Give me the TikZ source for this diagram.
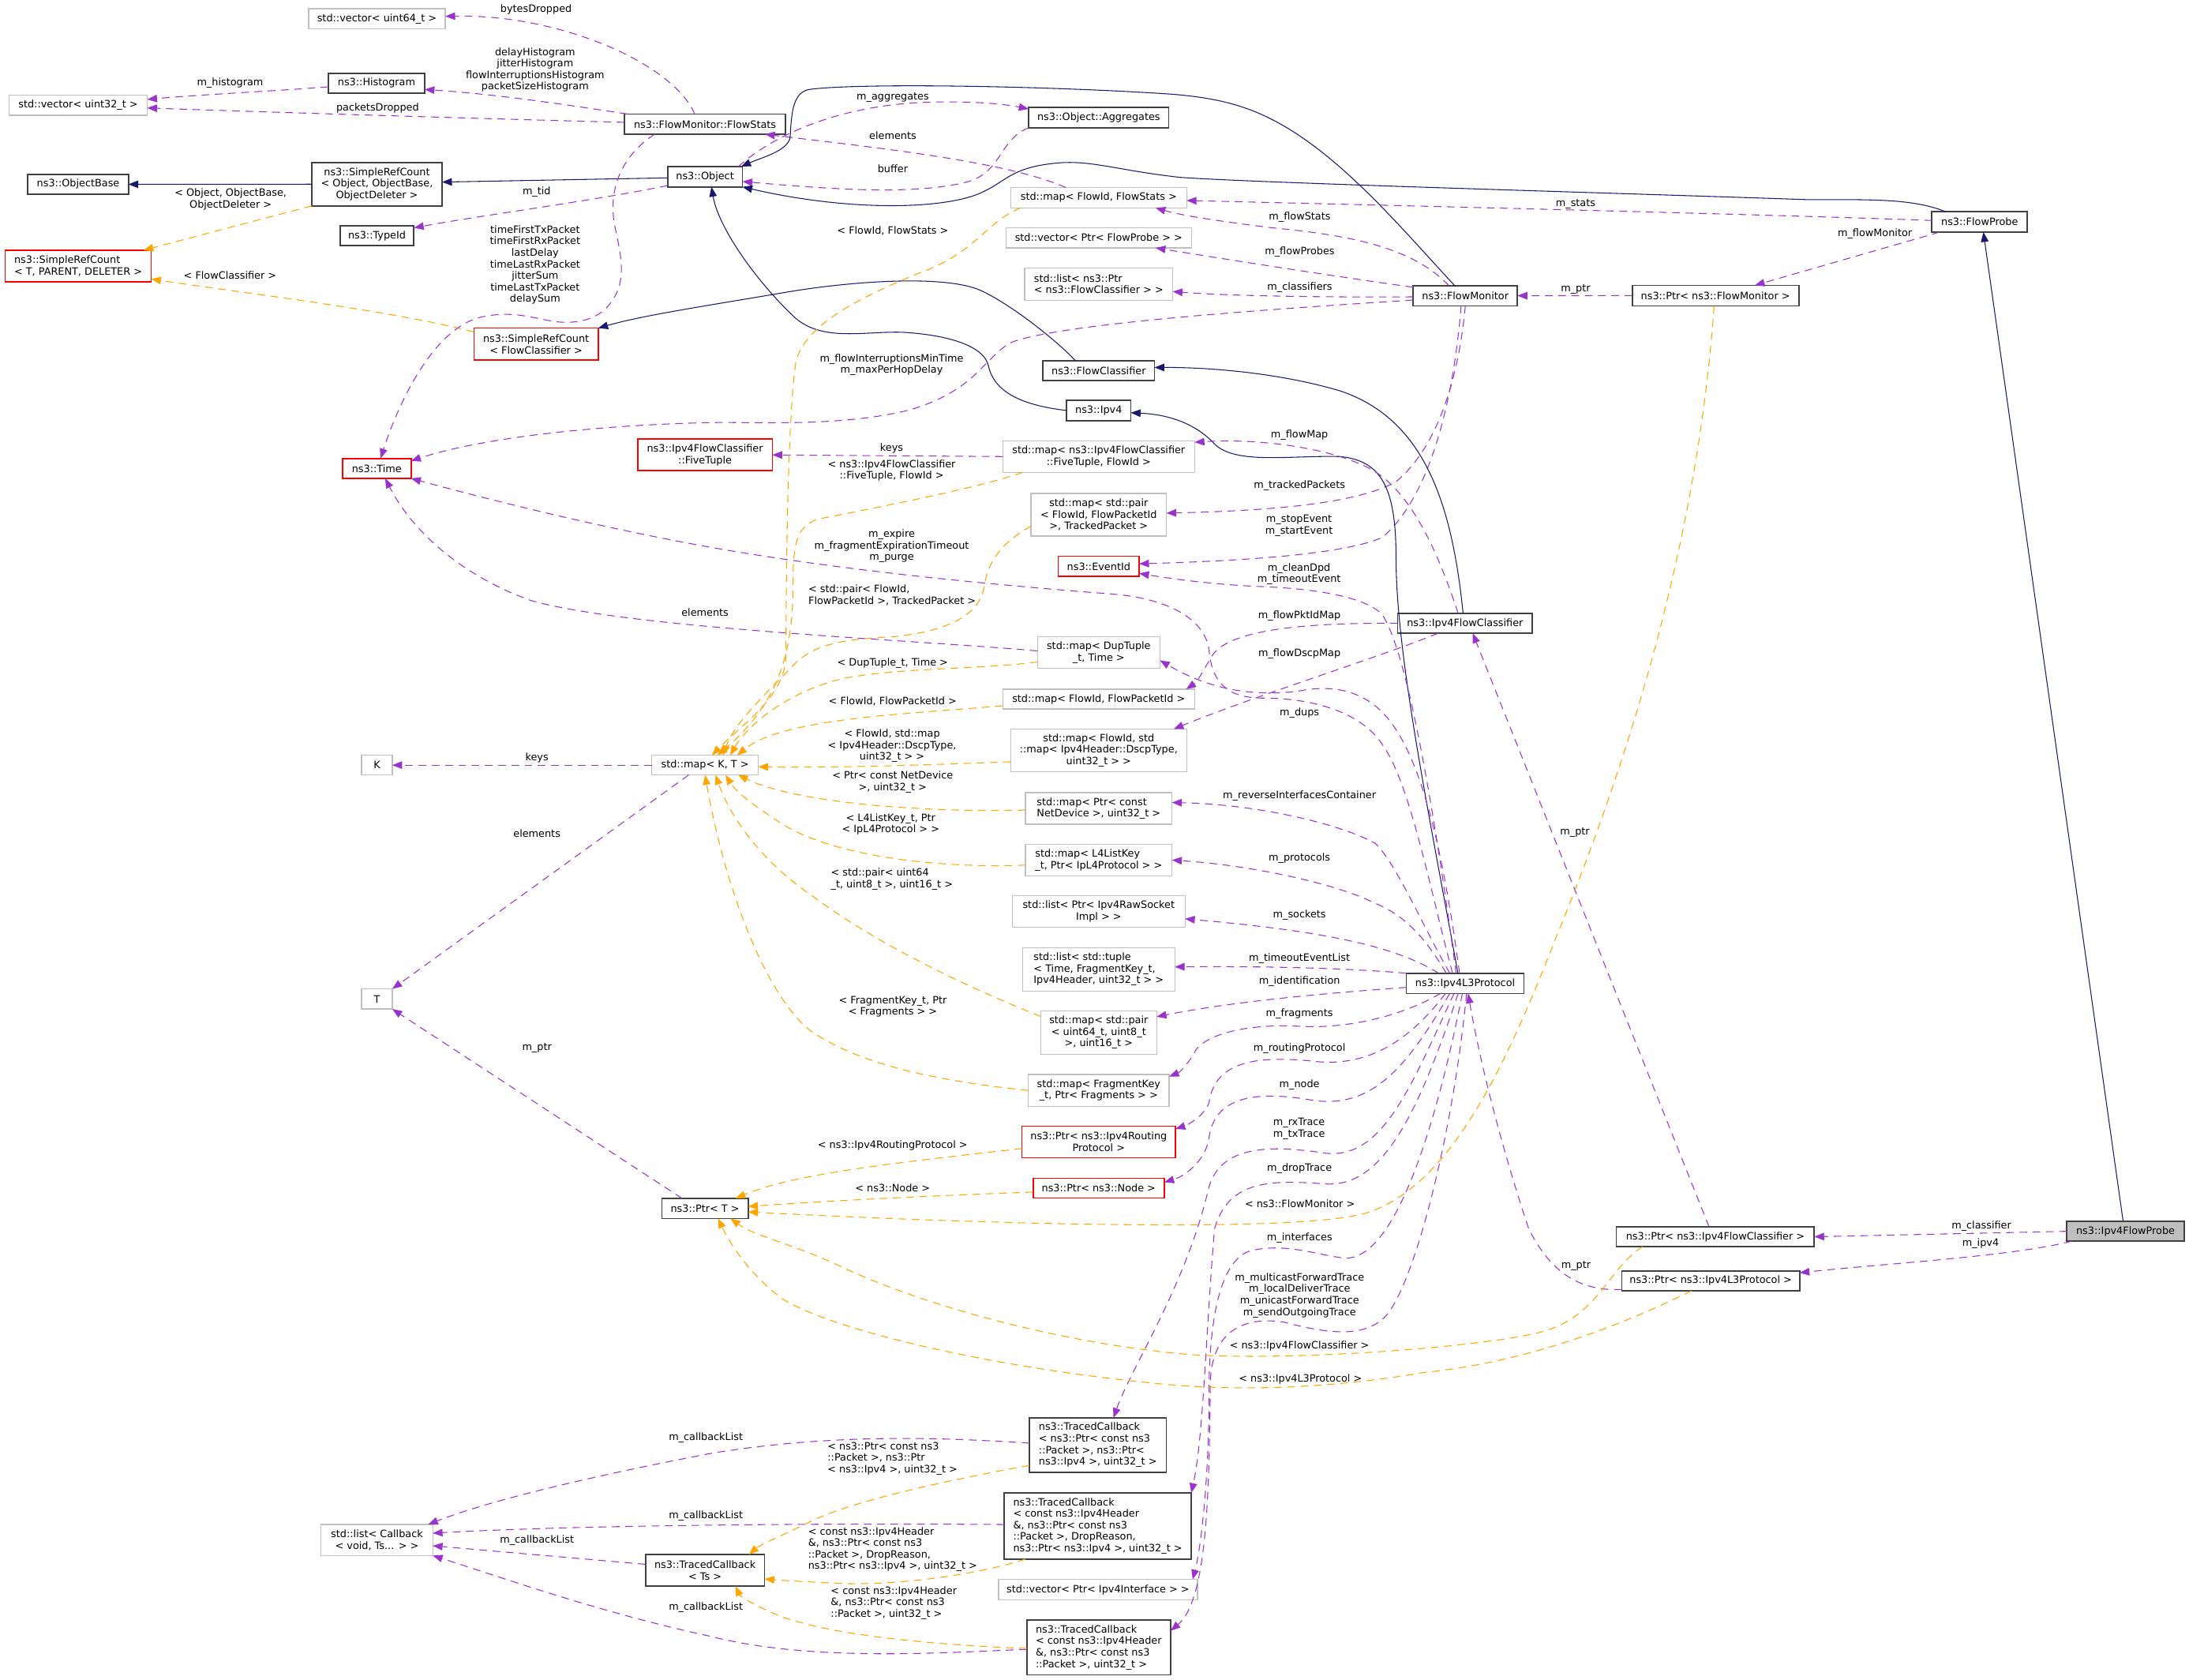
\documentclass[tikz,border=0pt]{standalone}
\usepackage{fontspec}
\setmainfont{DejaVu Sans}
\usetikzlibrary{arrows.meta}
\definecolor{purp}{HTML}{9A32CD}
\definecolor{orng}{HTML}{FFA500}
\definecolor{navyc}{HTML}{191970}
\definecolor{gbord}{HTML}{BFBFBF}
\definecolor{bbord}{HTML}{404040}
\definecolor{pfill}{HTML}{BFBFBF}
\newcommand{\dfont}{\fontsize{7.25}{8.25}\selectfont}
\tikzset{
  lbl/.style={font=\dfont, inner sep=0pt, align=center},
  bx/.style={rectangle, inner sep=1pt, outer sep=0pt, font=\dfont},
  blk/.style={bx, draw=bbord, line width=1pt, fill=white},
  gry/.style={bx, draw=gbord, line width=0.8pt, fill=white},
  rdb/.style={bx, draw=red, line width=1pt, fill=white},
  uses/.style={draw=purp, line width=0.6pt, dash pattern=on 5.5pt off 4pt, -{Triangle[length=7pt,width=5.4pt]}},
  tmpl/.style={draw=orng, line width=0.6pt, dash pattern=on 5.5pt off 4pt, -{Triangle[length=7pt,width=5.4pt]}},
  inh/.style={draw=navyc, line width=0.6pt, -{Triangle[length=7pt,width=5.4pt]}}
}
\begin{document}
\begin{tikzpicture}[x=1pt,y=-1pt]
\fill[white] (0,0) rectangle (1568,1203);
\useasboundingbox (0,0) rectangle (1568,1203);

% ---------- nodes ----------
\node[gry, minimum width=98pt, minimum height=14.5pt] (vec64) at (270,13.5) {std::vector< uint64\_t >};
\node[blk, minimum width=69pt, minimum height=14.4pt] (hist) at (269.7,59.6) {ns3::Histogram};
\node[gry, minimum width=99pt, minimum height=14.4pt] (vec32) at (56,75.4) {std::vector< uint32\_t >};
\node[blk, minimum width=115.5pt, minimum height=14.5pt] (fstats) at (505,88.9) {ns3::FlowMonitor::FlowStats};
\node[blk, minimum width=100.4pt, minimum height=14.5pt] (aggr) at (787,84.3) {ns3::Object::Aggregates};
\node[blk, minimum width=72pt, minimum height=14.4pt] (objbase) at (56,132) {ns3::ObjectBase};
\node[blk, align=center, minimum width=93.4pt, minimum height=31.1pt] (srcobj) at (270,131.9) {ns3::SimpleRefCount\\< Object, ObjectBase,\\ObjectDeleter >};
\node[blk, minimum width=53.7pt, minimum height=14.5pt] (object) at (505,126.6) {ns3::Object};
\node[blk, minimum width=53pt, minimum height=14.5pt] (typeid) at (270,168.8) {ns3::TypeId};
\node[rdb, align=left, minimum width=104.6pt, minimum height=22.8pt] (srct) at (56,190.6) {ns3::SimpleRefCount\\< T, PARENT, DELETER >};
\node[gry, minimum width=126pt, minimum height=14.5pt] (mapfs) at (787,141.6) {std::map< FlowId, FlowStats >};
\node[gry, minimum width=133pt, minimum height=14.5pt] (vecfp) at (787,170.3) {std::vector< Ptr< FlowProbe > >};
\node[gry, align=left, minimum width=106pt, minimum height=23pt] (listfc) at (787,203.5) {std::list< ns3::Ptr\\< ns3::FlowClassifier > >};
\node[blk, minimum width=68.4pt, minimum height=14.5pt] (probe) at (1418,159) {ns3::FlowProbe};
\node[blk, minimum width=74.8pt, minimum height=14.5pt] (fmon) at (1049.6,211.8) {ns3::FlowMonitor};
\node[blk, minimum width=119.3pt, minimum height=14.7pt] (ptrfm) at (1228.8,211.7) {ns3::Ptr< ns3::FlowMonitor >};
\node[rdb, align=center, minimum width=89pt, minimum height=23pt] (srcfc) at (384,246.5) {ns3::SimpleRefCount\\< FlowClassifier >};
\node[blk, minimum width=80pt, minimum height=14.2pt] (fclass) at (787,265.5) {ns3::FlowClassifier};
\node[blk, minimum width=46pt, minimum height=14.5pt] (ipv4) at (787,294) {ns3::Ipv4};
\node[rdb, minimum width=49pt, minimum height=14.3pt] (time) at (269.9,335.5) {ns3::Time};
\node[rdb, align=center, minimum width=96.5pt, minimum height=22.7pt] (fivet) at (505,325.8) {ns3::Ipv4FlowClassifier\\::FiveTuple};
\node[gry, align=center, minimum width=137.4pt, minimum height=22.5pt] (mapft) at (787,327) {std::map< ns3::Ipv4FlowClassifier\\::FiveTuple, FlowId >};
\node[gry, align=center, minimum width=97pt, minimum height=30.7pt] (maptp) at (787,368.7) {std::map< std::pair\\< FlowId, FlowPacketId\\>, TrackedPacket >};
\node[rdb, minimum width=58pt, minimum height=14.4pt] (eventid) at (787,405.6) {ns3::EventId};
\node[blk, minimum width=96.5pt, minimum height=14.4pt] (ipv4fc) at (1049.4,446.4) {ns3::Ipv4FlowClassifier};
\node[gry, align=center, minimum width=87.7pt, minimum height=22.5pt] (mapdup) at (787,467.4) {std::map< DupTuple\\\_t, Time >};
\node[gry, minimum width=137.4pt, minimum height=14.2pt] (mapfpi) at (787,500.7) {std::map< FlowId, FlowPacketId >};
\node[gry, minimum width=22pt, minimum height=14pt] (k) at (270,548) {K};
\node[gry, minimum width=76.4pt, minimum height=14.1pt] (mapkt) at (505,548) {std::map< K, T >};
\node[gry, align=center, minimum width=126pt, minimum height=30.7pt] (mapdscp) at (787,537.5) {std::map< FlowId, std\\::map< Ipv4Header::DscpType,\\uint32\_t > >};
\node[gry, align=left, minimum width=105pt, minimum height=22.7pt] (mapnd) at (787,579) {std::map< Ptr< const\\NetDevice >, uint32\_t >};
\node[gry, align=left, minimum width=105pt, minimum height=22.6pt] (mapl4) at (787,616) {std::map< L4ListKey\\\_t, Ptr< IpL4Protocol > >};
\node[gry, align=center, minimum width=123.7pt, minimum height=22.7pt] (listraw) at (787,652.8) {std::list< Ptr< Ipv4RawSocket\\Impl > >};
\node[gry, align=left, minimum width=109pt, minimum height=31pt] (listtup) at (787,694.3) {std::list< std::tuple\\< Time, FragmentKey\_t,\\Ipv4Header, uint32\_t > >};
\node[gry, minimum width=22pt, minimum height=14.4pt] (t) at (270,715.5) {T};
\node[blk, minimum width=84.3pt, minimum height=14.5pt] (ipv4l3) at (1049.5,704.3) {ns3::Ipv4L3Protocol};
\node[gry, align=center, minimum width=83pt, minimum height=31pt] (mapu64) at (787,739.5) {std::map< std::pair\\< uint64\_t, uint8\_t\\>, uint16\_t >};
\node[gry, align=center, minimum width=101pt, minimum height=23pt] (mapfk) at (787,781) {std::map< FragmentKey\\\_t, Ptr< Fragments > >};
\node[rdb, align=center, minimum width=110pt, minimum height=22.7pt] (ptrrp) at (787,817.9) {ns3::Ptr< ns3::Ipv4Routing\\Protocol >};
\node[blk, minimum width=61.7pt, minimum height=14.4pt] (ptrt) at (505,865.5) {ns3::Ptr< T >};
\node[rdb, minimum width=94pt, minimum height=14.2pt] (ptrnode) at (787,851) {ns3::Ptr< ns3::Node >};
\node[blk, minimum width=141.8pt, minimum height=14.3pt] (ptrfc) at (1228.7,885.8) {ns3::Ptr< ns3::Ipv4FlowClassifier >};
\node[blk, fill=pfill, minimum width=84pt, minimum height=14.2pt] (probe4) at (1522.5,881.9) {ns3::Ipv4FlowProbe};
\node[blk, minimum width=127.4pt, minimum height=14.3pt] (ptrl3) at (1225.4,917.4) {ns3::Ptr< ns3::Ipv4L3Protocol >};
\node[blk, align=left, minimum width=98pt, minimum height=39pt] (tc1) at (786.4,1035) {ns3::TracedCallback\\< ns3::Ptr< const ns3\\::Packet >, ns3::Ptr<\\ns3::Ipv4 >, uint32\_t >};
\node[gry, align=center, minimum width=80pt, minimum height=22.3pt] (listcb) at (270,1103) {std::list< Callback\\< void, Ts... > >};
\node[blk, align=left, minimum width=134pt, minimum height=47.4pt] (tc2) at (786.3,1093) {ns3::TracedCallback\\< const ns3::Ipv4Header\\\&, ns3::Ptr< const ns3\\::Packet >, DropReason,\\ns3::Ptr< ns3::Ipv4 >, uint32\_t >};
\node[blk, align=center, minimum width=85.3pt, minimum height=22.7pt] (tcts) at (505,1124.7) {ns3::TracedCallback\\< Ts >};
\node[gry, minimum width=142.6pt, minimum height=14.5pt] (vecif) at (786.5,1138.5) {std::vector< Ptr< Ipv4Interface > >};
\node[blk, align=left, minimum width=103pt, minimum height=39.3pt] (tc3) at (787,1180) {ns3::TracedCallback\\< const ns3::Ipv4Header\\\&, ns3::Ptr< const ns3\\::Packet >, uint32\_t >};

% ---------- usage / inheritance edges ----------
\draw[uses] ([xshift=-7.4pt]fstats.north) .. controls (482,45) and (400,10) .. ([yshift=1.8pt]vec64.east);
\draw[uses] ([xshift=2pt]fstats.north west) .. controls (400,74) and (350,67) .. ([yshift=-4.5pt]hist.east);
\draw[uses] ([yshift=1.3pt]fstats.west) .. controls (380,86) and (180,80) .. ([yshift=-1.9pt]vec32.east);
\draw[uses] ([yshift=-2.6pt]hist.west) .. controls (200,65) and (140,68) .. ([yshift=4.2pt]vec32.east);
\draw[inh] (srcobj.west) -- (objbase.east);
\draw[inh] ([yshift=-0.8pt]object.west) -- ([yshift=1.5pt]srcobj.east);
\draw[uses] ([yshift=-6.3pt]object.west) .. controls (430,143) and (340,155) .. ([yshift=5.6pt]typeid.east);
\draw[tmpl] (srcobj.south west) -- ([xshift=46.8pt]srct.north);
\draw[tmpl] ([yshift=-2.8pt]srcfc.north west) .. controls (280,222) and (160,208) .. ([yshift=2.2pt]srct.south east);
\draw[uses] ([xshift=-36.2pt]fstats.south) .. controls (445,112) and (436,135) .. (440,160) .. controls (444,180) and (450,200) .. (438,216) .. controls (430,228) and (415,233) .. (395,230) .. controls (375,226) and (365,223) .. (345,227) .. controls (310,235) and (285,290) .. ([xshift=2.7pt]time.north);
\draw[uses] ([xshift=-3pt]object.north east) .. controls (550,100) and (600,72) .. (680,73) .. controls (705,73) and (722,75) .. ([yshift=-1pt]aggr.north west);
\draw[uses] (aggr.south west) .. controls (715,100) and (718,125) .. (690,131) .. controls (650,140) and (590,135) .. ([yshift=-3.4pt]object.east);
\draw[uses] ([xshift=-23.5pt]mapfs.north) .. controls (720,115) and (620,105) .. ([xshift=43pt]fstats.south);
\draw[inh] ([xshift=-7.6pt]fmon.north) .. controls (1005,165) and (960,110) .. (910,85) .. controls (890,75) and (870,70) .. (840,67.5) .. controls (760,62) and (620,59) .. (580,64) .. controls (568,66) and (567,80) .. (566,98) .. controls (565,108) and (545,113) .. ([xshift=-1pt]object.north east);
\draw[inh] ([xshift=-24pt]probe.north) .. controls (1370,142) and (1340,143) .. (1295,143) .. controls (1150,138) and (900,131) .. (845,127) .. controls (800,122) and (780,114) .. (755,117) .. controls (725,120) and (720,130) .. (705,137) .. controls (680,150) and (610,152) .. (object.south east);
\draw[uses] ([yshift=1.1pt]probe.west) .. controls (1250,153) and (950,146) .. ([yshift=-2pt]mapfs.east);
\draw[uses] ([xshift=-11.8pt]fmon.north) .. controls (1010,175) and (960,168) .. (910,163) .. controls (870,158) and (845,154) .. ([xshift=40.8pt]mapfs.south);
\draw[uses] ([yshift=-1.2pt]fmon.north west) .. controls (950,197) and (880,186) .. ([xshift=40.8pt]vecfp.south);
\draw[uses] ([yshift=-0.8pt]fmon.west) .. controls (950,213) and (880,212) .. ([yshift=-5.3pt]listfc.east);
\draw[uses] ([yshift=-3.1pt]fmon.west) .. controls (900,222) and (760,232) .. (725,245) .. controls (705,255) and (700,280) .. (650,294) .. controls (600,306) and (540,302) .. (508.9,302.7) .. controls (440,304) and (350,312) .. ([yshift=5.4pt]time.east);
\draw[uses] (ptrfm.west) -- (fmon.east);
\draw[uses] ([xshift=5.5pt]probe.south west) -- ([xshift=28.2pt]ptrfm.north);
\draw[uses] (fmon.south) .. controls (1045,270) and (1030,320) .. (1000,345) .. controls (970,362) and (900,366) .. ([yshift=1.2pt]maptp.east);
\draw[uses] ([xshift=-3pt]fmon.south) .. controls (1040,300) and (1020,360) .. (990,385) .. controls (960,398) and (880,402) .. ([yshift=1.8pt]eventid.east);
\draw[inh] ([xshift=-16.6pt]fclass.north) .. controls (755,242) and (720,215) .. (700,207) .. controls (670,196) and (600,203) .. (565,209) .. controls (500,220) and (460,226) .. (srcfc.north east);
\draw[inh] ([xshift=-1.4pt]ipv4fc.north) .. controls (1040,360) and (1020,300) .. (960,280) .. controls (920,268) and (870,263) .. ([yshift=2.3pt]fclass.east);
\draw[inh] (ipv4.west) .. controls (730,290) and (712,280) .. (708,262) .. controls (705,248) and (680,240) .. (647,238) .. controls (620,237) and (590,245) .. (570,228) .. controls (545,205) and (515,165) .. ([xshift=4.6pt]object.south);
\draw[inh] ([xshift=-5.2pt]ipv4l3.north) .. controls (1025,590) and (1000,470) .. (1000,400) .. controls (1000,350) and (990,330) .. (960,327) .. controls (925,326) and (885,333) .. (870,318) .. controls (858,305) and (840,297) .. ([yshift=-1.6pt]ipv4.east);
\draw[inh] ([xshift=-1.7pt]probe4.north) -- ([xshift=2.7pt]probe.south);
\draw[uses] (mapft.west) -- (fivet.east);
\draw[uses] ([xshift=-5pt]ipv4fc.north) .. controls (1030,395) and (1010,350) .. (980,335) .. controls (950,320) and (900,314) .. ([yshift=-1pt]mapft.north east);
\draw[uses] ([xshift=-9pt]ipv4l3.north) .. controls (1025,640) and (1010,560) .. (990,533) .. controls (975,510) and (940,500) .. (905,500) .. controls (880,500) and (868,490) .. (866,465) .. controls (862,440) and (830,428) .. (797,425.5) .. controls (700,418) and (600,408) .. (509,392) .. controls (420,376) and (340,355) .. (time.south east);
\draw[uses] ([xshift=-6.5pt]ipv4l3.north) .. controls (1030,600) and (1010,470) .. (990,440) .. controls (975,425) and (930,421) .. (900,420) .. controls (860,418) and (830,413) .. ([yshift=2.1pt]eventid.south east);
\draw[uses] ([yshift=1.2pt]mapdup.west) .. controls (650,458) and (450,450) .. (380,430) .. controls (330,412) and (295,380) .. ([xshift=6pt]time.south);
\draw[uses] (ipv4fc.west) .. controls (940,446) and (880,450) .. (868,470) .. controls (862,480) and (858,488) .. ([xshift=-6pt]mapfpi.north east);
\draw[uses] ([xshift=-19.4pt]ipv4fc.south) .. controls (990,470) and (900,498) .. ([xshift=53.7pt]mapdscp.north);
\draw[uses] ([xshift=-4pt]ipv4l3.north) .. controls (1035,620) and (1020,540) .. (990,510) .. controls (975,495) and (955,490) .. (930,495) .. controls (890,500) and (860,490) .. ([yshift=-5.6pt]mapdup.east);
\draw[uses] (mapkt.west) -- (k.east);
\draw[uses] ([xshift=-11.7pt]mapkt.south) -- (t.north east);
\draw[uses] ([xshift=-16.5pt]ptrt.north) -- (t.south east);
\draw[uses] ([xshift=-11pt]ipv4l3.north) .. controls (1020,665) and (1000,618) .. (985,604) .. controls (960,590) and (900,576) .. ([yshift=4.2pt]mapnd.east);
\draw[uses] ([xshift=-13.5pt]ipv4l3.north) .. controls (1020,670) and (1005,655) .. (985,647) .. controls (960,634) and (900,620) .. (mapl4.east);
\draw[uses] ([xshift=-19pt]ipv4l3.north) .. controls (1000,678) and (950,667) .. ([yshift=-5.3pt]listraw.east);
\draw[uses] (ipv4l3.north west) .. controls (960,693) and (900,692) .. ([yshift=1.8pt]listtup.east);
\draw[uses] ([yshift=-2.9pt]ipv4l3.west) .. controls (940,712) and (880,718) .. ([yshift=-4.2pt]mapu64.north east);
\draw[uses] ([xshift=-17.7pt]ipv4l3.south) .. controls (1000,730) and (960,737) .. (930,735) .. controls (890,733) and (860,742) .. (855,755) .. controls (850,763) and (845,768) .. ([yshift=-1.6pt]mapfk.north east);
\draw[uses] ([xshift=-14.1pt]ipv4l3.south) .. controls (1010,745) and (980,765) .. (940,760) .. controls (900,756) and (870,760) .. (866,790) .. controls (862,800) and (850,806) .. ([yshift=-2pt]ptrrp.north east);
\draw[uses] ([xshift=-11pt]ipv4l3.south) .. controls (1010,760) and (985,795) .. (940,788) .. controls (900,781) and (870,785) .. (866,815) .. controls (864,830) and (850,842) .. ([yshift=4.2pt]ptrnode.east);
\draw[uses] ([xshift=-8pt]ipv4l3.south) .. controls (1010,780) and (990,830) .. (950,826) .. controls (910,820) and (875,820) .. (866,850) .. controls (850,920) and (810,980) .. ([xshift=11.2pt]tc1.north);
\draw[uses] ([xshift=-5pt]ipv4l3.south) .. controls (1015,800) and (990,850) .. (950,848) .. controls (910,845) and (880,845) .. (870,880) .. controls (864,950) and (862,1030) .. (tc2.north east);
\draw[uses] ([xshift=-2pt]ipv4l3.south) .. controls (1030,800) and (1000,905) .. (962,901) .. controls (940,898) and (920,890) .. (895,896) .. controls (870,905) and (866,960) .. (866,1000) .. controls (866,1060) and (860,1110) .. ([xshift=-3.5pt]vecif.north east);
\draw[uses] ([xshift=1pt]ipv4l3.south) .. controls (1040,820) and (1010,930) .. (990,945) .. controls (975,958) and (950,955) .. (920,947) .. controls (895,943) and (868,950) .. (867,990) .. controls (866,1060) and (866,1145) .. ([yshift=12pt]tc3.east);
\draw[uses] ([xshift=-4.5pt]ptrfc.north) -- ([xshift=5.5pt]ipv4fc.south);
\draw[uses] ([yshift=1pt]ptrl3.south west) .. controls (1130,925) and (1110,910) .. (1095,880) .. controls (1075,820) and (1060,760) .. ([xshift=2.1pt]ipv4l3.south);
\draw[uses] (probe4.west) -- (ptrfc.east);
\draw[uses] ([xshift=3.5pt]probe4.south west) .. controls (1440,900) and (1350,905) .. ([yshift=5.8pt]ptrl3.east);
\draw[uses] ([yshift=1.4pt]tc1.west) .. controls (680,1030) and (600,1026) .. (509,1041) .. controls (420,1058) and (350,1075) .. ([xshift=-3.3pt]listcb.north east);
\draw[uses] ([yshift=1.1pt]tc2.west) .. controls (600,1091) and (420,1092) .. ([yshift=4.9pt]listcb.east);
\draw[uses] ([yshift=4.3pt]tcts.west) -- ([yshift=-4.1pt]listcb.east);
\draw[uses] ([yshift=-1.3pt]tc3.west) .. controls (670,1184) and (580,1190) .. (509,1172) .. controls (430,1155) and (360,1130) .. (listcb.south east);

% ---------- template instance edges ----------
\draw[tmpl] ([xshift=-56pt]mapfs.south) .. controls (705,160) and (700,180) .. (660,195) .. controls (610,215) and (575,235) .. (570,260) .. controls (564,300) and (563,420) .. (563,470) .. controls (562,500) and (530,520) .. ([xshift=5pt]mapkt.north);
\draw[tmpl] ([xshift=-54.5pt]mapft.south) .. controls (700,350) and (620,365) .. (585,372) .. controls (570,378) and (568,390) .. (568,420) .. controls (568,470) and (556,505) .. ([xshift=9pt]mapkt.north);
\draw[tmpl] ([yshift=-8.1pt]maptp.west) .. controls (715,390) and (707,405) .. (705,420) .. controls (702,440) and (680,452) .. (640,456) .. controls (600,458) and (580,462) .. (565,480) .. controls (545,500) and (525,520) .. ([xshift=13pt]mapkt.north);
\draw[tmpl] ([yshift=-6.7pt]mapdup.west) .. controls (700,480) and (620,478) .. (590,490) .. controls (560,500) and (535,520) .. ([xshift=18pt]mapkt.north);
\draw[tmpl] ([yshift=-4.8pt]mapfpi.west) .. controls (640,512) and (560,515) .. ([xshift=23pt]mapkt.north);
\draw[tmpl] ([yshift=-8.1pt]mapdscp.west) .. controls (660,548) and (600,550) .. ([yshift=-1.2pt]mapkt.east);
\draw[tmpl] ([yshift=-1.2pt]mapnd.west) .. controls (660,582) and (570,575) .. ([xshift=23.7pt]mapkt.south);
\draw[tmpl] ([yshift=-3.6pt]mapl4.west) .. controls (680,622) and (600,615) .. (560,590) .. controls (540,577) and (527,567) .. ([xshift=14.7pt]mapkt.south);
\draw[tmpl] ([yshift=-4pt]mapu64.north west) .. controls (700,710) and (630,678) .. (581,641) .. controls (550,620) and (525,590) .. ([xshift=7.5pt]mapkt.south);
\draw[tmpl] (mapfk.west) .. controls (680,775) and (620,765) .. (581,738.6) .. controls (550,715) and (520,640) .. (mapkt.south);
\draw[tmpl] ([yshift=-4.7pt]ptrrp.west) .. controls (650,832) and (570,840) .. ([xshift=22pt]ptrt.north);
\draw[tmpl] ([yshift=-2.8pt]ptrnode.west) .. controls (650,857) and (580,861) .. ([yshift=1.4pt]ptrt.east);
\draw[tmpl] ([xshift=-1pt]ptrfm.south) .. controls (1215,400) and (1160,560) .. (1116,668) .. controls (1080,760) and (1040,850) .. (978,869) .. controls (920,885) and (650,874) .. ([yshift=-2.5pt]ptrt.east);
\draw[tmpl] ([xshift=-52.2pt]ptrfc.south) .. controls (1150,910) and (1145,945) .. (1100,955) .. controls (1050,966) and (920,975) .. (850,970) .. controls (760,962) and (660,935) .. (600,906) .. controls (570,892) and (540,885) .. ([xshift=18.3pt]ptrt.south);
\draw[tmpl] ([xshift=-13.7pt]ptrl3.south) .. controls (1170,945) and (1100,975) .. (1020,983) .. controls (950,995) and (880,997) .. (820,990) .. controls (720,980) and (600,955) .. (560,930) .. controls (540,915) and (525,895) .. ([xshift=9.3pt]ptrt.south);
\draw[tmpl] ([yshift=5pt]tc1.south west) .. controls (680,1060) and (610,1075) .. (580,1090) .. controls (560,1100) and (545,1106) .. ([xshift=31.5pt]tcts.north);
\draw[tmpl] ([xshift=-51.8pt]tc2.south) .. controls (700,1128) and (640,1136) .. (600,1134) .. controls (580,1133) and (560,1132) .. ([yshift=-6.2pt]tcts.east);
\draw[tmpl] ([yshift=-0.7pt]tc3.west) .. controls (670,1178) and (600,1172) .. (560,1158) .. controls (540,1150) and (530,1143) .. ([xshift=21.8pt]tcts.south);

% ---------- labels ----------
\node[lbl] (lb1) at (384,6.6) {bytesDropped};
\node[lbl] (lb2) at (383.3,50) {delayHistogram\\jitterHistogram\\flowInterruptionsHistogram\\packetSizeHistogram};
\node[lbl] (lb3) at (164.8,59.4) {m\_histogram};
\node[lbl] (lb4) at (270.5,77.3) {packetsDropped};
\node[lbl] (lb5) at (639.5,70.1) {m\_aggregates};
\node[lbl] (lb6) at (639.5,97) {elements};
\node[lbl] (lb7) at (639.5,121) {buffer};
\node[lbl] (lb8) at (384.4,137.2) {m\_tid};
\node[lbl] (lb9) at (165.2,142.6) {< Object, ObjectBase,\\ObjectDeleter >};
\node[lbl] (lb10) at (164.8,197) {< FlowClassifier >};
\node[lbl] (lb11) at (383.3,189.7) {timeFirstTxPacket\\timeFirstRxPacket\\lastDelay\\timeLastRxPacket\\jitterSum\\timeLastTxPacket\\delaySum};
\node[lbl] (lb12) at (639.5,165.3) {< FlowId, FlowStats >};
\node[lbl] (lb13) at (1128.6,146.2) {m\_stats};
\node[lbl] (lb14) at (931,155.5) {m\_flowStats};
\node[lbl] (lb15) at (931,180.6) {m\_flowProbes};
\node[lbl] (lb16) at (931,206) {m\_classifiers};
\node[lbl] (lb17) at (1343,167.7) {m\_flowMonitor};
\node[lbl] (lb18) at (1128.6,207.5) {m\_ptr};
\node[lbl] (lb19) at (638.7,261.3) {m\_flowInterruptionsMinTime\\m\_maxPerHopDelay};
\node[lbl] (lb20) at (638.7,320.9) {keys};
\node[lbl] (lb21) at (638.7,337) {< ns3::Ipv4FlowClassifier\\::FiveTuple, FlowId >};
\node[lbl] (lb22) at (930.8,311.4) {m\_flowMap};
\node[lbl] (lb23) at (930.8,348) {m\_trackedPackets};
\node[lbl] (lb24) at (930.5,376.5) {m\_stopEvent\\m\_startEvent};
\node[lbl] (lb25) at (638.7,391.1) {m\_expire\\m\_fragmentExpirationTimeout\\m\_purge};
\node[lbl] (lb26) at (930.5,411.2) {m\_cleanDpd\\m\_timeoutEvent};
\node[lbl, anchor=west, align=left] (lb27) at (578.9,426.2) {< std::pair< FlowId,\\FlowPacketId >, TrackedPacket >};
\node[lbl] (lb28) at (505,438.6) {elements};
\node[lbl] (lb29) at (930.8,441.1) {m\_flowPktIdMap};
\node[lbl] (lb30) at (930.8,468.3) {m\_flowDscpMap};
\node[lbl] (lb31) at (639.4,474.8) {< DupTuple\_t, Time >};
\node[lbl] (lb32) at (639.4,502.3) {< FlowId, FlowPacketId >};
\node[lbl] (lb33) at (930.8,510.9) {m\_dups};
\node[lbl] (lb34) at (384.6,543) {keys};
\node[lbl] (lb35) at (639,534.3) {< FlowId, std::map\\< Ipv4Header::DscpType,\\uint32\_t > >};
\node[lbl] (lb36) at (639.4,560.2) {< Ptr< const NetDevice\\>, uint32\_t >};
\node[lbl] (lb37) at (930.8,570.3) {m\_reverseInterfacesContainer};
\node[lbl] (lb38) at (638,590.4) {< L4ListKey\_t, Ptr\\< IpL4Protocol > >};
\node[lbl] (lb39) at (384.6,596.8) {elements};
\node[lbl] (lb40) at (930.8,614.6) {m\_protocols};
\node[lbl, anchor=west, align=left] (lb41) at (595,629.7) {< std::pair< uint64\\\_t, uint8\_t >, uint16\_t >};
\node[lbl] (lb42) at (930.8,655.3) {m\_sockets};
\node[lbl] (lb43) at (930.8,686.7) {m\_timeoutEventList};
\node[lbl] (lb44) at (930.8,703.1) {m\_identification};
\node[lbl] (lb45) at (639.5,721.1) {< FragmentKey\_t, Ptr\\< Fragments > >};
\node[lbl] (lb46) at (930.8,726.1) {m\_fragments};
\node[lbl] (lb47) at (384.6,750.8) {m\_ptr};
\node[lbl] (lb48) at (930.8,751.2) {m\_routingProtocol};
\node[lbl] (lb49) at (930.8,777.1) {m\_node};
\node[lbl] (lb50) at (930.5,808.4) {m\_rxTrace\\m\_txTrace};
\node[lbl] (lb51) at (639.4,820.4) {< ns3::Ipv4RoutingProtocol >};
\node[lbl] (lb52) at (930.8,836.7) {m\_dropTrace};
\node[lbl] (lb53) at (639.4,850.7) {< ns3::Node >};
\node[lbl] (lb54) at (931.1,861.9) {< ns3::FlowMonitor >};
\node[lbl] (lb55) at (930.9,886.5) {m\_interfaces};
\node[lbl] (lb56) at (930.9,927.8) {m\_multicastForwardTrace\\m\_localDeliverTrace\\m\_unicastForwardTrace\\m\_sendOutgoingTrace};
\node[lbl] (lb57) at (930.8,963.8) {< ns3::Ipv4FlowClassifier >};
\node[lbl] (lb58) at (931.5,987.6) {< ns3::Ipv4L3Protocol >};
\node[lbl] (lb59) at (1128.1,596.3) {m\_ptr};
\node[lbl] (lb60) at (1128.9,906.5) {m\_ptr};
\node[lbl] (lb61) at (1419.3,878) {m\_classifier};
\node[lbl] (lb62) at (1418.7,890.4) {m\_ipv4};
\node[lbl] (lb63) at (505.6,1029.5) {m\_callbackList};
\node[lbl, anchor=west, align=left] (lb64) at (592.6,1044.7) {< ns3::Ptr< const ns3\\::Packet >, ns3::Ptr\\< ns3::Ipv4 >, uint32\_t >};
\node[lbl] (lb65) at (505.6,1085.7) {m\_callbackList};
\node[lbl, anchor=west, align=left] (lb66) at (578.7,1109.7) {< const ns3::Ipv4Header\\\&, ns3::Ptr< const ns3\\::Packet >, DropReason,\\ns3::Ptr< ns3::Ipv4 >, uint32\_t >};
\node[lbl] (lb67) at (384.6,1103.3) {m\_callbackList};
\node[lbl] (lb68) at (505.6,1151.2) {m\_callbackList};
\node[lbl, anchor=west, align=left] (lb69) at (594.9,1148) {< const ns3::Ipv4Header\\\&, ns3::Ptr< const ns3\\::Packet >, uint32\_t >};
\end{tikzpicture}
\end{document}
